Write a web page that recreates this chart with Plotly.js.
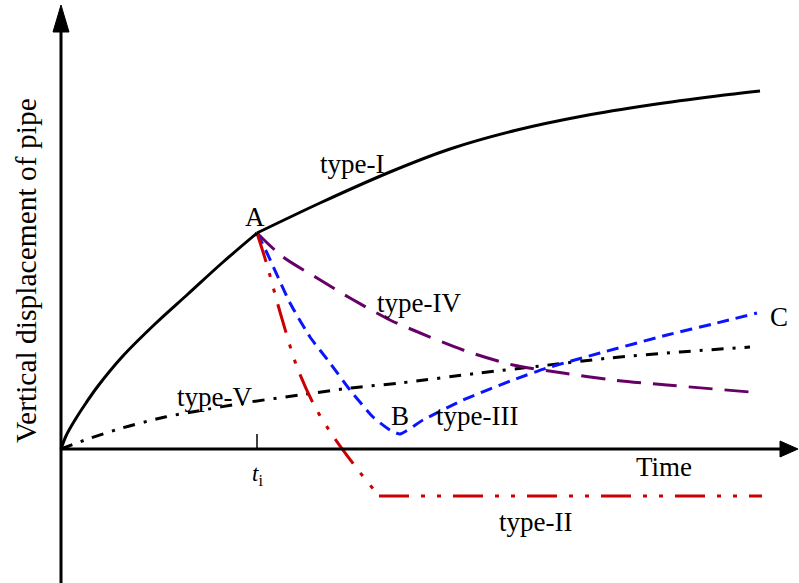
<!DOCTYPE html>
<html>
<head>
<meta charset="utf-8">
<script src="https://cdn.plot.ly/plotly-3.0.1.min.js"></script>
<style>
  html, body { margin: 0; padding: 0; background: #ffffff; }
  #chart { width: 799px; height: 583px; }
</style>
</head>
<body>
<div id="chart"></div>
<script>
// Schematic of pipe vertical displacement over time (arbitrary units).
const tI = 1.96;                 // moment t_i where the curves split at point A

// type-I before A (common loading branch)
const loadT = [0, 0.05, 0.14, 0.25, 0.37, 0.61, 0.94, 1.27, 1.61, 1.96];
const loadD = [0, 0.13, 0.29, 0.46, 0.63, 0.92, 1.25, 1.55, 1.86, 2.16];

// type-I after A: keeps rising
const type1T = [1.96, 2.59, 3.29, 3.89, 4.56, 5.22, 5.89, 6.56, 6.99];
const type1D = [2.16, 2.46, 2.77, 3.00, 3.19, 3.33, 3.44, 3.53, 3.58];

// type-II: drops below zero, then stays flat
const type2DropT = [1.96, 2.06, 2.19, 2.36, 2.54, 2.72, 2.97, 3.18];
const type2DropD = [2.16, 1.84, 1.37, 0.82, 0.42, 0.13, -0.21, -0.47];
const type2FlatT = [3.18, 7.01];
const type2FlatD = [-0.47, -0.47];

// type-III: drops to B, then recovers towards C
const type3T = [1.96, 2.06, 2.29, 2.49, 2.69, 2.89, 3.12, 3.29, 3.39, 3.62, 4.02, 4.52, 4.86, 5.39, 6.06, 6.56, 6.96];
const type3D = [2.16, 1.96, 1.46, 1.12, 0.86, 0.59, 0.32, 0.19, 0.15, 0.29, 0.49, 0.69, 0.81, 0.96, 1.14, 1.26, 1.36];

// type-IV: gradual decay after A
const type4T = [1.96, 2.22, 2.56, 2.89, 3.29, 3.52, 4.02, 4.52, 5.02, 5.52, 6.06, 6.89];
const type4D = [2.16, 1.92, 1.71, 1.51, 1.29, 1.19, 0.99, 0.84, 0.76, 0.69, 0.64, 0.57];

// type-V: slow steady growth from the origin
const type5T = [0, 0.24, 0.61, 1.04, 1.31, 1.89, 2.39, 2.89, 3.39, 4.19, 4.79, 5.49, 6.19, 6.89];
const type5D = [0, 0.09, 0.21, 0.32, 0.37, 0.47, 0.54, 0.61, 0.66, 0.76, 0.83, 0.91, 0.97, 1.02];

// Text labels: [text, t, d]
const curveLabels = [
  ['type-I', 2.91, 2.85],
  ['type-II', 4.74, -0.73],
  ['type-III', 4.16, 0.33],
  ['type-IV', 3.58, 1.46],
  ['type-V', 1.53, 0.52],
  ['A', 1.94, 2.32],
  ['B', 3.39, 0.33],
  ['C', 7.18, 1.32],
  ['Time', 6.03, -0.18]
];
const yTitle = 'Vertical displacement of pipe';
const tickLabel = '<i>t</i><sub>i</sub>';

const xRange = [-0.61, 7.38];
const yRange = [-1.34, 4.49];
const xAxisEnd = 7.37, yAxisEnd = 4.44, headLen = 0.18, headHalf = 0.08;

const serif = 'Liberation Serif, Times New Roman, serif';
const RED = '#cc0000', BLUE = '#0a14ff', PURPLE = '#660066';

function line(t, d, color, dash, shape, smoothing) {
  return {
    x: t, y: d, type: 'scatter', mode: 'lines', hoverinfo: 'skip',
    line: { color: color, width: 3, dash: dash, shape: shape || 'spline',
            smoothing: smoothing === undefined ? 0.8 : smoothing }
  };
}

const traces = [
  line(type5T, type5D, '#000000', '12px,9px,3px,9px'),
  line(type4T, type4D, PURPLE, '24px,12px'),
  line(type3T, type3D, BLUE, '12px,7px', 'spline', 0.5),
  line(type2DropT, type2DropD, RED, '30px,12px,4px,12px,4px,12px'),
  line(type2FlatT, type2FlatD, RED, '30px,12px,4px,12px,4px,12px', 'linear'),
  line(loadT, loadD, '#000000', 'solid', 'spline', 1),
  line(type1T, type1D, '#000000', 'solid', 'spline', 0.8)
];

const shapes = [
  // horizontal time axis with arrow
  { type: 'line', xref: 'x', yref: 'y', x0: 0, y0: 0, x1: xAxisEnd - headLen, y1: 0,
    line: { color: '#000', width: 3 } },
  { type: 'path', xref: 'x', yref: 'y',
    path: `M ${xAxisEnd} 0 L ${xAxisEnd - headLen} ${headHalf} L ${xAxisEnd - headLen} ${-headHalf} Z`,
    fillcolor: '#000', line: { color: '#000', width: 1 } },
  // vertical displacement axis with arrow
  { type: 'line', xref: 'x', yref: 'y', x0: 0, y0: yRange[0], x1: 0, y1: yAxisEnd - 0.27,
    line: { color: '#000', width: 3 } },
  { type: 'path', xref: 'x', yref: 'y',
    path: `M 0 ${yAxisEnd} L ${-headHalf} ${yAxisEnd - 0.27} L ${headHalf} ${yAxisEnd - 0.27} Z`,
    fillcolor: '#000', line: { color: '#000', width: 1 } },
  // tick mark at t_i
  { type: 'line', xref: 'x', yref: 'y', x0: tI, y0: 0, x1: tI, y1: 0.15,
    line: { color: '#000', width: 1.5 } }
];

const annotations = curveLabels.map(([text, t, d]) => ({
  x: t, y: d, xref: 'x', yref: 'y', text: text, showarrow: false,
  xanchor: 'center', yanchor: 'middle',
  font: { family: serif, size: 27, color: '#000' }
}));
annotations.push({
  x: tI, y: -0.26, xref: 'x', yref: 'y', text: tickLabel, showarrow: false,
  xanchor: 'center', yanchor: 'middle',
  font: { family: serif, size: 23, color: '#000' }
});
annotations.push({
  x: -0.35, y: 1.78, xref: 'x', yref: 'y', text: yTitle, showarrow: false,
  textangle: -90, xanchor: 'center', yanchor: 'middle',
  font: { family: serif, size: 29.5, color: '#000' }
});

const layout = {
  width: 799, height: 583,
  margin: { l: 0, r: 0, t: 0, b: 0 },
  paper_bgcolor: '#ffffff', plot_bgcolor: '#ffffff',
  showlegend: false,
  xaxis: { range: xRange, visible: false, fixedrange: true },
  yaxis: { range: yRange, visible: false, fixedrange: true },
  shapes: shapes,
  annotations: annotations
};

Plotly.newPlot('chart', traces, layout, { staticPlot: true, displayModeBar: false });
</script>
</body>
</html>
